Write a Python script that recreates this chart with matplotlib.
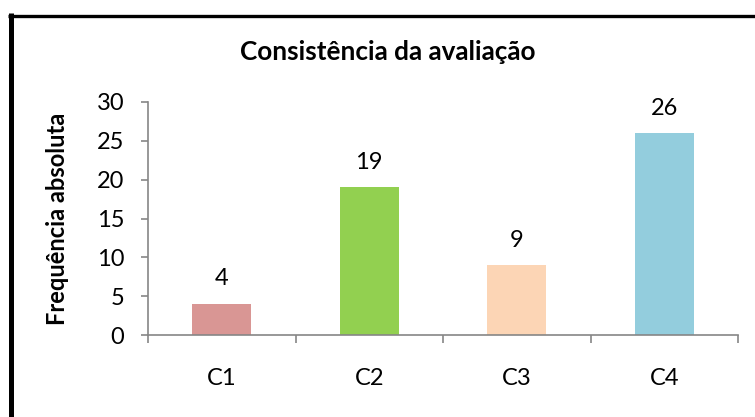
import matplotlib
matplotlib.use('Agg')
import matplotlib.pyplot as plt
from matplotlib.lines import Line2D

# DATA
categories = ['C1', 'C2', 'C3', 'C4']
counts = [4, 19, 9, 26]
bar_colors = ['#D99694', '#92D050', '#FCD5B5', '#93CDDD']
yticks = [0, 5, 10, 15, 20, 25, 30]

plt.rcParams['font.family'] = ['Lato', 'DejaVu Sans']

fig = plt.figure(figsize=(7.55, 4.17), dpi=100)
ax = fig.add_axes([148/755, 1 - 335/417, (738 - 148)/755, (335 - 102)/417])

x = range(len(categories))
ax.bar(x, counts, width=0.4, color=bar_colors)

# value labels above the bars
for xi, v in zip(x, counts):
    ax.annotate(str(v), xy=(xi, v), xytext=(0, 18), textcoords='offset points',
                ha='center', va='center', fontsize=17)

ax.set_xlim(-0.5, 3.5)
ax.set_ylim(0, 30)
ax.set_yticks(yticks)
ax.set_xticks([-0.5, 0.5, 1.5, 2.5, 3.5], minor=False)
ax.set_xticklabels([])
ax.set_xticks(list(x), minor=True)
ax.set_xticklabels(categories, minor=True)

gray = '#868686'
for side in ['top', 'right']:
    ax.spines[side].set_visible(False)
for side in ['left', 'bottom']:
    ax.spines[side].set_color(gray)
    ax.spines[side].set_linewidth(1.2)

ax.tick_params(axis='y', direction='out', length=5, width=1.2, color=gray,
               labelsize=17, pad=12)
ax.tick_params(axis='x', which='major', direction='out', length=6, width=1.2, color=gray)
ax.tick_params(axis='x', which='minor', length=0, labelsize=17, pad=24)

ax.set_ylabel('Frequência absoluta', fontsize=17, fontweight='bold')
ax.yaxis.set_label_coords(-0.134, 0.5)
fig.text(388/755, 1 - 52/417, 'Consistência da avaliação', ha='center', va='center',
         fontsize=18.8, fontweight='bold')

# black frame around the chart (left and top edges visible)
fig.add_artist(Line2D([10.5/755, 10.5/755], [0, 1 - 13/417], transform=fig.transFigure,
                      color='black', linewidth=3.6, solid_capstyle='butt'))
fig.add_artist(Line2D([8/755, 1], [1 - 15.5/417, 1 - 15.5/417], transform=fig.transFigure,
                      color='black', linewidth=2.4, solid_capstyle='butt'))

fig.savefig('out.png', dpi=100)
